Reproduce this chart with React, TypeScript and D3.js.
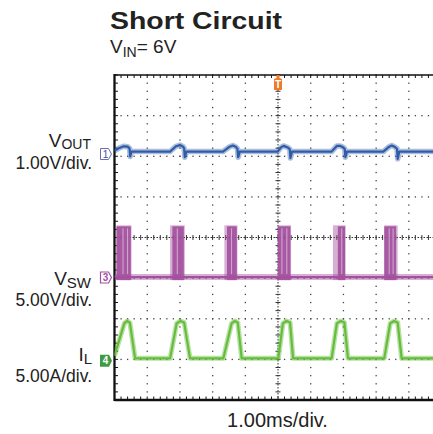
import React from "react";
import * as d3 from "d3";

const W = 433;
const H = 434;

// 10 horizontal divisions at 1.00 ms/div, trigger at 0
const timeDomain = [-5, 5];
const divDomain = [-4, 4];

// channel ground positions (in divisions from centre)
const voutOffset = 2.055;
const vswOffset = -0.985;
const ilOffset = -3.035;

// VOUT, 1.00 V/div
const voutTime = [
  -5.0, -4.85, -4.72, -4.6, -4.54, -4.52, -4.48,
  -3.3, -3.12, -3.0, -2.9, -2.87, -2.85, -2.8,
  -1.68, -1.48, -1.38, -1.28, -1.24, -1.22, -1.17,
  -0.01, 0.1, 0.17, 0.3, 0.36, 0.38, 0.43,
  1.64, 1.8, 1.9, 1.98, 2.04, 2.06, 2.11,
  3.22, 3.4, 3.48, 3.58, 3.64, 3.66, 3.71,
  5.0,
];
const voutVolts = [
  0.08, 0.15, 0.19, 0.18, 0.14, -0.06, 0.06,
  0.06, 0.19, 0.22, 0.18, 0.14, -0.08, 0.06,
  0.06, 0.18, 0.21, 0.17, 0.13, -0.08, 0.06,
  0.06, 0.17, 0.2, 0.16, 0.12, -0.1, 0.06,
  0.06, 0.2, 0.2, 0.17, 0.13, -0.08, 0.06,
  0.06, 0.18, 0.21, 0.17, 0.13, -0.12, 0.06,
  0.06,
];

// IL, 5.00 A/div
const ilTime = [
  -5.0, -4.7, -4.62, -4.53, -4.37,
  -3.3, -3.1, -2.98, -2.87, -2.69,
  -1.67, -1.42, -1.32, -1.23, -1.11,
  0.01, 0.15, 0.26, 0.37, 0.46,
  1.64, 1.8, 1.92, 2.03, 2.14,
  3.25, 3.43, 3.55, 3.66, 3.78,
  5.0,
];
const ilAmps = [
  0.6, 4.6, 4.9, 4.7, 0.3,
  0.3, 4.6, 4.9, 4.7, 0.3,
  0.3, 4.6, 4.9, 4.7, 0.3,
  0.3, 4.6, 4.9, 4.7, 0.3,
  0.3, 4.6, 4.9, 4.7, 0.3,
  0.3, 4.6, 4.9, 4.7, 0.3,
  0.3,
];

// VSW, 5.00 V/div: switching bursts
const vswLow = 0.05;
const vswHigh = 6.3;
const vswBurstOn = [-4.94, -3.23, -1.56, 0.0, 1.83, 3.25];
const vswBurstOff = [-4.5, -2.88, -1.26, 0.38, 2.05, 3.61];
const vswGhostOn = [-4.94, -3.3, -1.64, -0.02, 1.68, 3.25];
const vswGhostOff = [-4.48, -2.85, -1.24, 0.4, 2.07, 3.66];
const vswStripes = [-4.74, -4.6, -3.08, -1.42, 0.12, 0.27, 1.95, 3.4, 3.52];

const font = "'Liberation Sans', Arial, Helvetica, sans-serif";

const blue = "#2f5ca8";
const purple = "#a3509e";
const green = "#66bd3c";
const orange = "#f07a2a";
const ink = "#222";

export default function App() {
  const x = d3.scaleLinear().domain(timeDomain).range([114.5, 441.5]);
  const yDiv = d3.scaleLinear().domain(divDomain).range([400, 75]);
  const yVout = (v: number) => yDiv(voutOffset + v / 1.0);
  const yVsw = (v: number) => yDiv(vswOffset + v / 5.0);
  const yIl = (a: number) => yDiv(ilOffset + a / 5.0);

  const voutLine = d3
    .line<number>()
    .x((t) => x(t))
    .y((_, i) => yVout(voutVolts[i]));
  const ilLine = d3
    .line<number>()
    .x((t) => x(t))
    .y((_, i) => yIl(ilAmps[i]));

  const majorX = d3.range(-4, 5).filter((d) => d !== 0);
  const majorY = d3.range(-3, 4).filter((d) => d !== 0);
  const minorX = d3.range(-25, 26).map((d) => d / 5);
  const minorY = d3.range(-20, 21).map((d) => d / 5);

  const left = x(-5);
  const top = yDiv(4);
  const bottom = yDiv(-4);
  const cx = x(0);
  const cy = yDiv(0);

  return (
    <div style={{ position: "absolute", left: 0, top: 0 }}>
      <svg width={W} height={H} style={{ display: "block", background: "#fff" }}>
        <defs>
          <clipPath id="plot">
            <rect x={left} y={top} width={W - left} height={bottom - top} />
          </clipPath>
        </defs>

        {/* title */}
        <text x={110} y={28.5} fontFamily={font} fontWeight="bold" fontSize={24}
          fill={ink} textLength={172} lengthAdjust="spacingAndGlyphs">
          Short Circuit
        </text>
        <text x={110} y={53} fontFamily={font} fontSize={19} fill={ink}>
          V<tspan fontSize={14} dy={4}>IN</tspan>
          <tspan fontSize={19} dy={-4}>= 6V</tspan>
        </text>

        {/* graticule dots */}
        <g fill="#444">
          {majorX.map((d) =>
            minorY.map((m) => (
              <rect key={`v${d}_${m}`} x={x(d) - 0.6} y={yDiv(m) - 0.6} width={1.3} height={1.3} />
            ))
          )}
          {majorY.map((d) =>
            minorX.map((m) => (
              <rect key={`h${d}_${m}`} x={x(m) - 0.6} y={yDiv(d) - 0.6} width={1.3} height={1.3} />
            ))
          )}
        </g>

        {/* centre cross lines */}
        <g stroke="#333" strokeWidth={1}>
          <line x1={cx} x2={cx} y1={top} y2={bottom} strokeDasharray="1.5 1.5" />
          <line x1={left} x2={W} y1={cy} y2={cy} strokeDasharray="1.5 1.5" />
          {minorY.map((m) => (
            <line key={`cv${m}`} x1={cx - 2.5} x2={cx + 2.5} y1={yDiv(m)} y2={yDiv(m)} />
          ))}
          {minorX.map((m) => (
            <line key={`ch${m}`} x1={x(m)} x2={x(m)} y1={cy - 2.5} y2={cy + 2.5} />
          ))}
        </g>

        {/* frame with ticks */}
        <g stroke="#111">
          <line x1={left} x2={left} y1={top - 1} y2={bottom + 1} strokeWidth={2.3} />
          <line x1={left} x2={W} y1={bottom} y2={bottom} strokeWidth={2.3} />
          <line x1={left} x2={W} y1={top} y2={top} strokeWidth={1.6} />
          {minorY.map((m) => (
            <line key={`lt${m}`} x1={left} x2={left + 3.5} y1={yDiv(m)} y2={yDiv(m)} strokeWidth={1} />
          ))}
          {minorX.map((m) => (
            <line key={`bt${m}`} x1={x(m)} x2={x(m)} y1={bottom} y2={bottom - 3.5} strokeWidth={1} />
          ))}
          {minorX.map((m) => (
            <line key={`tt${m}`} x1={x(m)} x2={x(m)} y1={top} y2={top + 3} strokeWidth={1} />
          ))}
        </g>

        {/* traces */}
        <g clipPath="url(#plot)" fill="none" strokeLinejoin="round">
          {/* VSW */}
          <line x1={left} x2={W} y1={yVsw(vswLow)} y2={yVsw(vswLow)} stroke={purple} strokeOpacity={0.45} strokeWidth={6} />
          <line x1={left} x2={W} y1={yVsw(vswLow)} y2={yVsw(vswLow)} stroke={purple} strokeWidth={2.4} />
          {vswGhostOn.map((t, i) => (
            <rect key={`g${i}`} x={x(t)} y={yVsw(vswHigh) - 1} width={x(vswGhostOff[i]) - x(t)}
              height={yVsw(vswLow) - yVsw(vswHigh) + 4} fill={purple} fillOpacity={0.45} stroke="none" />
          ))}
          {vswBurstOn.map((t, i) => (
            <rect key={`b${i}`} x={x(t)} y={yVsw(vswHigh)} width={x(vswBurstOff[i]) - x(t)}
              height={yVsw(vswLow) - yVsw(vswHigh) + 3} fill={purple} fillOpacity={0.9} stroke="none" />
          ))}
          {vswStripes.map((t, i) => (
            <line key={`s${i}`} x1={x(t)} x2={x(t)} y1={yVsw(vswHigh) + 2} y2={yVsw(vswLow) - 3}
              stroke="#d8b4d5" strokeWidth={0.9} />
          ))}

          {/* VOUT */}
          <path d={voutLine(voutTime) ?? ""} stroke={blue} strokeOpacity={0.4} strokeWidth={5.5} />
          <path d={voutLine(voutTime) ?? ""} stroke={blue} strokeWidth={2.2} />

          {/* IL */}
          <path d={ilLine(ilTime) ?? ""} stroke={green} strokeOpacity={0.45} strokeWidth={5} />
          <path d={ilLine(ilTime) ?? ""} stroke={green} strokeWidth={2.2} />
        </g>

        {/* trigger marker */}
        <g transform={`translate(${cx},${top})`}>
          <path d="M-1.5,0 L1.5,0 L1.5,3 L4,4 L4,15 L-4,15 L-4,4 L-1.5,3 Z" fill={orange} />
          <text x={0} y={13} textAnchor="middle" fontFamily={font} fontSize={10} fontWeight="bold" fill="#fff">T</text>
        </g>

        {/* channel markers */}
        <g fontFamily={font} fontSize={10} textAnchor="middle">
          <g transform={`translate(100,${yVout(0)})`}>
            <path d="M0.5,-5.5 L8.5,-5.5 L11.5,0 L8.5,5.5 L0.5,5.5 Z" fill="#fff" stroke="#6a6ab8" strokeWidth={1} />
            <text x={5.5} y={3.6} fill="#4a4aa8">1</text>
          </g>
          <g transform={`translate(100,${yVsw(0)})`}>
            <path d="M0.5,-5.5 L8.5,-5.5 L11.5,0 L8.5,5.5 L0.5,5.5 Z" fill="#fff" stroke={purple} strokeWidth={1.2} />
            <text x={5.5} y={3.6} fill={purple} fontWeight="bold">3</text>
          </g>
          <g transform={`translate(100,${yIl(0)})`}>
            <path d="M0,-6 L9,-6 L12,0 L9,6 L0,6 Z" fill="#3f9b45" />
            <text x={5.5} y={3.6} fill="#fff" fontWeight="bold">4</text>
          </g>
        </g>

        {/* channel labels */}
        <g fontFamily={font} fill={ink} textAnchor="end">
          <text x={91} y={147} fontSize={19}>
            V<tspan fontSize={14} dy={2}>OUT</tspan>
          </text>
          <text x={92} y={169} fontSize={17.5}>1.00V/div.</text>
          <text x={91} y={285} fontSize={19}>
            V<tspan fontSize={15} dy={3}>SW</tspan>
          </text>
          <text x={92} y={306} fontSize={17.5}>5.00V/div.</text>
          <text x={92} y={361} fontSize={19}>
            I<tspan fontSize={15} dy={3}>L</tspan>
          </text>
          <text x={92} y={382} fontSize={17.5}>5.00A/div.</text>
        </g>

        <text x={277.5} y={426.5} textAnchor="middle" fontFamily={font} fontSize={20} fill={ink}>
          1.00ms/div.
        </text>
      </svg>
    </div>
  );
}
